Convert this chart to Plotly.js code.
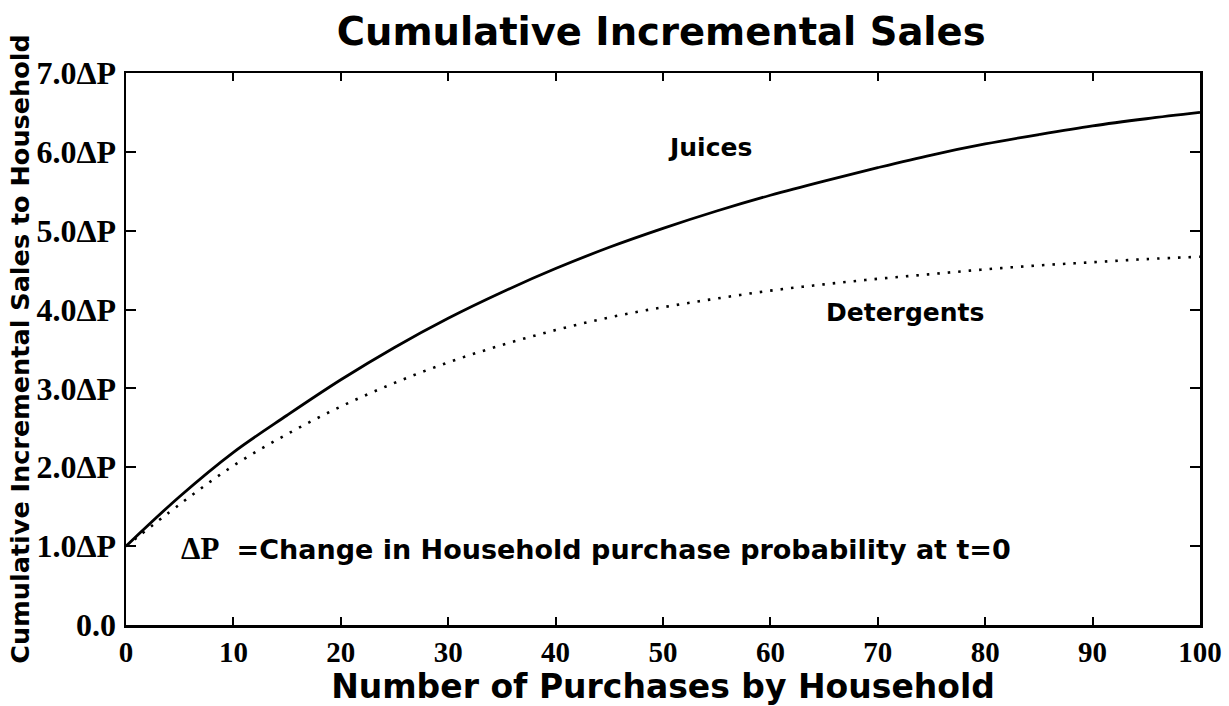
<!DOCTYPE html>
<html>
<head>
<meta charset="utf-8">
<script src="https://cdn.plot.ly/plotly-3.0.1.min.js"></script>
<style>html,body{margin:0;padding:0;background:#fff;}#chart{width:1229px;height:706px;}</style>
</head>
<body>
<div id="chart"></div>
<script>
// Number of purchases by household
const purchases = [0, 5, 10, 15, 20, 25, 30, 35, 40, 45, 50, 55, 60, 65, 70, 75, 80, 85, 90, 95, 100];
// Cumulative incremental sales (in units of ΔP)
const juices = [1.00, 1.63, 2.19, 2.66, 3.11, 3.52, 3.89, 4.22, 4.52, 4.79, 5.03, 5.25, 5.45, 5.63, 5.80, 5.96, 6.10, 6.22, 6.33, 6.42, 6.50];
const detergents = [1.00, 1.53, 2.02, 2.42, 2.77, 3.07, 3.33, 3.55, 3.74, 3.90, 4.03, 4.14, 4.24, 4.32, 4.39, 4.45, 4.51, 4.56, 4.60, 4.64, 4.67];
const xTickVals = [0, 10, 20, 30, 40, 50, 60, 70, 80, 90, 100];
const yTickVals = [0, 1, 2, 3, 4, 5, 6, 7];
const yTickText = ["0.0", "1.0ΔP", "2.0ΔP", "3.0ΔP", "4.0ΔP", "5.0ΔP", "6.0ΔP", "7.0ΔP"];

const serif = '"Liberation Serif", "Times New Roman", serif';
const sans = '"DejaVu Sans", Arial, sans-serif';

const traces = [
  {x: purchases, y: juices, name: 'Juices', mode: 'lines', line: {color: '#000', width: 2.8, shape: 'spline'}},
  {x: purchases, y: detergents, name: 'Detergents', mode: 'lines', line: {color: '#000', width: 2.6, dash: '2.5px,8px', shape: 'spline'}}
];

const layout = {
  width: 1229, height: 706,
  margin: {l: 126, r: 29, t: 73, b: 81},
  paper_bgcolor: '#fff', plot_bgcolor: '#fff',
  showlegend: false,
  title: {text: '<b>Cumulative Incremental Sales</b>', x: 0.538, xanchor: 'center', y: 0.955, yanchor: 'middle',
          font: {family: sans, size: 38.5, color: '#000'}},
  xaxis: {
    range: [0, 100], tickvals: xTickVals, ticktext: xTickVals.map(String),
    ticks: 'inside', ticklen: 8, tickwidth: 2, tickcolor: '#000',
    showline: true, linewidth: 2.5, linecolor: '#000', mirror: 'ticks',
    showgrid: false, zeroline: false,
    tickfont: {family: serif, size: 29, color: '#000', weight: 'bold'},
    ticklabelstandoff: 0,
    title: {text: '<b>Number of Purchases by Household</b>', font: {family: sans, size: 33, color: '#000'}, standoff: 0}
  },
  yaxis: {
    range: [0, 7], tickvals: yTickVals, ticktext: yTickText,
    ticks: 'inside', ticklen: 10, tickwidth: 2, tickcolor: '#000',
    showline: true, linewidth: 2.5, linecolor: '#000', mirror: 'ticks',
    showgrid: false, zeroline: false,
    tickfont: {family: serif, size: 32, color: '#000', weight: 'bold'},
    ticklabelstandoff: 1,
    title: {text: '<b>Cumulative Incremental Sales to Household</b>', font: {family: sans, size: 25.5, color: '#000'}, standoff: 0}
  },
  annotations: [
    {x: 54.4, y: 6.05, xref: 'x', yref: 'y', text: '<b>Juices</b>', showarrow: false,
     font: {family: sans, size: 25, color: '#000'}},
    {x: 72.5, y: 3.96, xref: 'x', yref: 'y', text: '<b>Detergents</b>', showarrow: false,
     font: {family: sans, size: 25, color: '#000'}},
    {x: 4.9, y: 0.97, xref: 'x', yref: 'y', xanchor: 'left',
     text: '<span style="font-family:Liberation Serif;font-size:31px"><b>ΔP</b></span>  <b>=Change in Household purchase probability at t=0</b>',
     showarrow: false, font: {family: sans, size: 27, color: '#000'}}
  ]
};

Plotly.newPlot('chart', traces, layout, {displayModeBar: false, staticPlot: true});
</script>
</body>
</html>
